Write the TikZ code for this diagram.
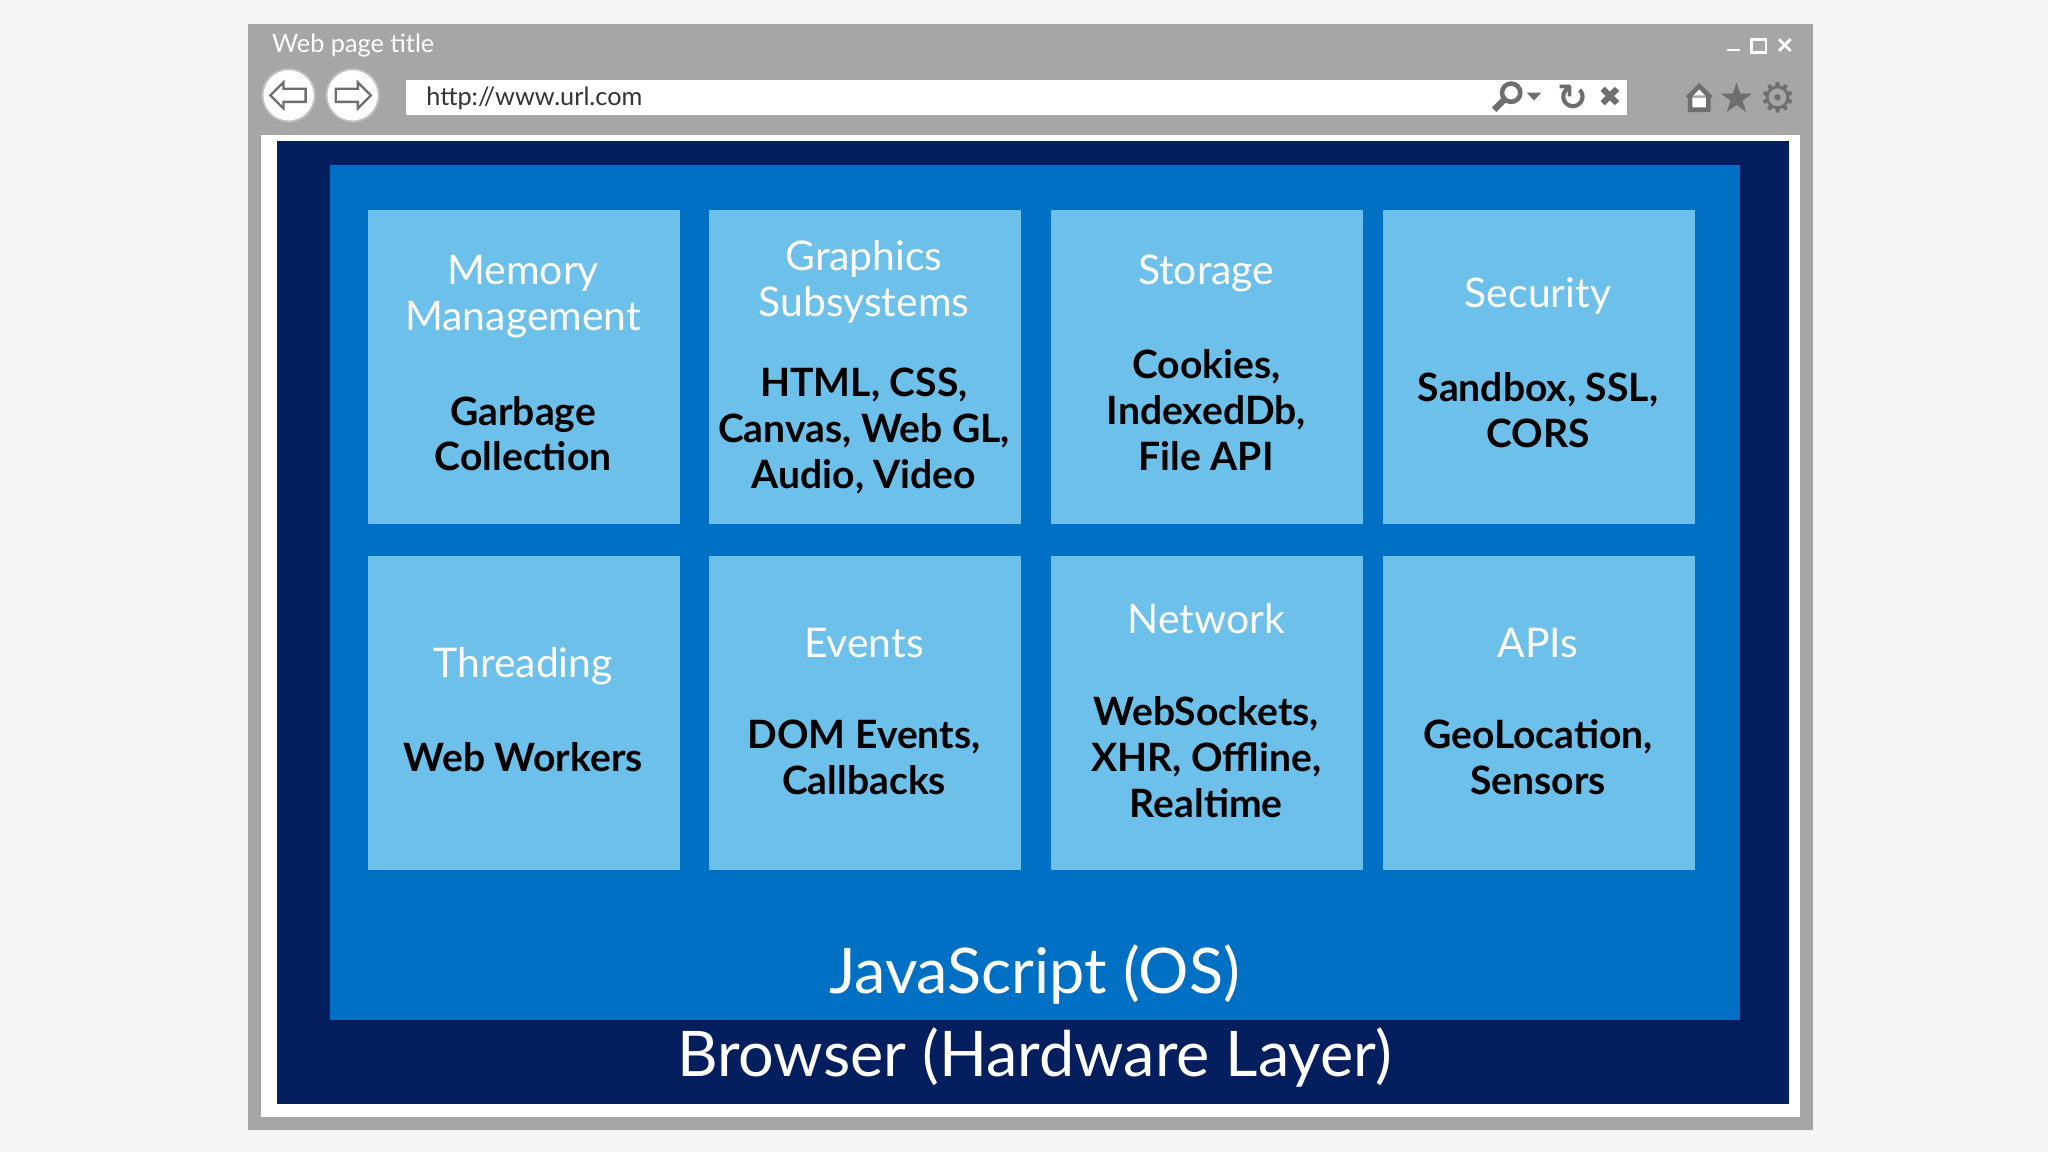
\documentclass[tikz,border=0pt]{standalone}
\usepackage{fontspec}
\setmainfont{Lato}
\usetikzlibrary{arrows.meta}
\definecolor{bgc}{HTML}{F5F5F5}
\definecolor{frame}{HTML}{A6A6A6}
\definecolor{navy}{HTML}{041E5E}
\definecolor{jsblue}{HTML}{0070C4}
\definecolor{tile}{HTML}{6CC0EA}
\definecolor{icon}{HTML}{6E6E6E}
\newfontfamily\dejavu{DejaVu Sans}
\tikzset{
 px/.style={x=0.01cm,y=-0.01cm},
 tilebox/.style={fill=tile,draw=none,minimum width=2.39cm,minimum height=2.4cm,anchor=north west},
 head/.style={text=white,font=\fontsize{8.9}{10.1}\selectfont,align=center},
 body/.style={text=black,font=\bfseries\fontsize{8.5}{10}\selectfont,align=center},
}
\begin{document}
\begin{tikzpicture}[px]
\fill[bgc] (0,0) rectangle (1568,882);
\useasboundingbox (0,0) rectangle (1568,882);
\fill[frame] (190,18) rectangle (1388,865);
\node[anchor=west,text=white,font=\fontsize{5.5}{6}\selectfont] (title) at (196,35) {Web page title};
\draw[white,line width=0.4pt] (1322,38) -- (1332,38);
\draw[white,line width=0.6pt] (1341,30) rectangle (1352,40);
\draw[white,line width=0.6pt] (1362,30) -- (1371,39) (1371,30) -- (1362,39);
\node[circle,fill=white,draw=frame!70,minimum size=0.4cm,inner sep=0] (back) at (221,73) {};
\node[circle,fill=white,draw=frame!70,minimum size=0.4cm,inner sep=0] (fwd) at (270,73) {};
\draw[icon,line width=0.5pt,fill=white] (207,73) -- (217,63) -- (217,68) -- (234,68) -- (234,78) -- (217,78) -- (217,83) -- cycle;
\draw[icon,line width=0.5pt,fill=white] (284,73) -- (274,63) -- (274,68) -- (257,68) -- (257,78) -- (274,78) -- (274,83) -- cycle;
\fill[white] (311,61) rectangle (1246,88);
\node[anchor=west,text=black!80,font=\fontsize{5.5}{6}\selectfont] (url) at (314,75) {http://www.url.com};
\draw[icon,line width=1pt] (1157,71) circle (7);
\draw[icon,line width=1.4pt] (1152,76) -- (1144,84);
\fill[icon] (1169,71) -- (1180,71) -- (1174.5,77) -- cycle;
\node[text=icon,font=\dejavu\bfseries\fontsize{8}{8}\selectfont,inner sep=0] (refresh) at (1204,75) {↻};
\draw[icon,line width=1.3pt] (1227,68) -- (1238,79) (1238,68) -- (1227,79);
\draw[icon,line width=1pt,fill=white] (1292,75) -- (1301,66) -- (1310,75) (1294,73) -- (1294,84) -- (1308,84) -- (1308,73);
\node[text=icon,font=\dejavu\fontsize{9}{9}\selectfont,inner sep=0] (star) at (1330,75) {★};
\node[text=icon,font=\dejavu\fontsize{9}{9}\selectfont,inner sep=0] (gear) at (1361,75) {⚙};
\fill[white] (200,103) rectangle (1378,855);
\fill[navy] (212,108) rectangle (1370,845);
\fill[jsblue] (253,126) rectangle (1332,781);
\node[tilebox] (t1) at (281,160) {};
\node[tilebox] (t2) at (542,160) {};
\node[tilebox] (t3) at (804,160) {};
\node[tilebox] (t4) at (1058,160) {};
\node[tilebox] (t5) at (281,425) {};
\node[tilebox] (t6) at (542,425) {};
\node[tilebox] (t7) at (804,425) {};
\node[tilebox] (t8) at (1058,425) {};
\node[head] at (400.5,227) {Memory\\Management};
\node[body] at (400.5,332) {Garbage\\Collection};
\node[head] at (661.5,216) {Graphics\\Subsystems};
\node[body] at (661.5,330) {HTML, CSS,\\Canvas, Web GL,\\Audio, Video};
\node[head] at (923.5,209) {Storage};
\node[body] at (923.5,314) {Cookies,\\IndexedDb,\\File API};
\node[head] at (1177.5,227) {Security};
\node[body] at (1177.5,314) {Sandbox, SSL,\\CORS};
\node[head] at (400.5,510) {Threading};
\node[body] at (400.5,580) {Web Workers};
\node[head] at (661.5,492) {Events};
\node[body] at (661.5,580) {DOM Events,\\Callbacks};
\node[head] at (923.5,474) {Network};
\node[body] at (923.5,580) {WebSockets,\\XHR, Offline,\\Realtime};
\node[head] at (1177.5,492) {APIs};
\node[body] at (1177.5,580) {GeoLocation,\\Sensors};
\node[text=white,font=\fontsize{13.7}{15}\selectfont] (js) at (792,746) {JavaScript (OS)};
\node[text=white,font=\fontsize{13.7}{15}\selectfont] (br) at (792,810) {Browser (Hardware Layer)};
\end{tikzpicture}
\end{document}
